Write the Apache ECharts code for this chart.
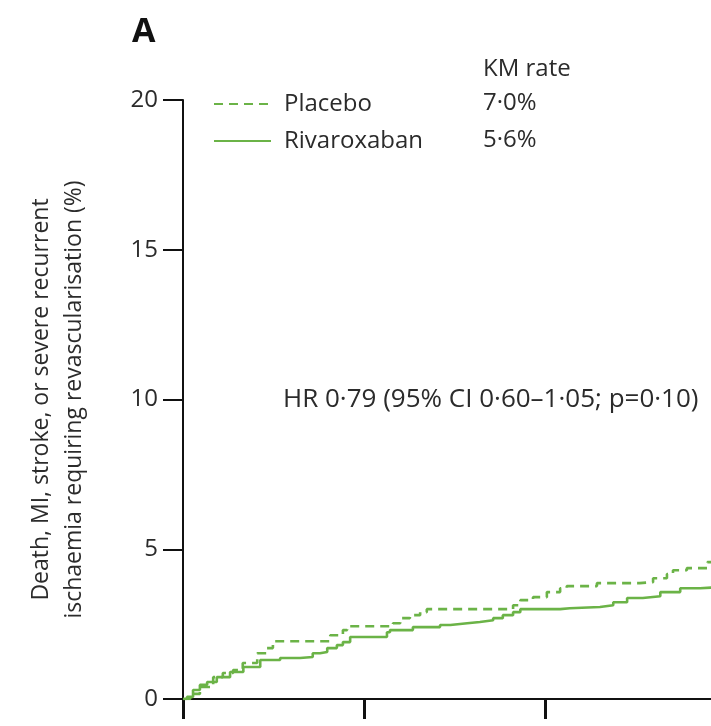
<!DOCTYPE html>
<html>
<head>
<meta charset="utf-8">
<script src="https://cdn.jsdelivr.net/npm/echarts@6/dist/echarts.min.js"></script>
<style>html,body{margin:0;padding:0;background:#fff}#c{width:711px;height:726px}</style>
</head>
<body>
<div id="c"></div>
<script>
// Time (days) and cumulative event rate (%)
const placeboDays = [0, 1.2, 2.8, 5.0, 6.6, 8.3, 9.9, 12.3, 13.9, 14.9, 24.4, 26.5, 27.2, 34.8, 36.0, 37.6, 39.3, 40.4, 54.7, 55.9, 58.0, 60.3, 62.5, 63.6, 68.6, 75.7, 77.9, 80.2, 81.2, 83.5, 86.9, 88.5];
const placeboRate = [0, 0.17, 0.40, 0.73, 0.87, 0.97, 1.20, 1.53, 1.70, 1.93, 2.13, 2.30, 2.43, 2.53, 2.70, 2.80, 2.90, 3.00, 3.13, 3.30, 3.40, 3.57, 3.70, 3.77, 3.87, 3.90, 4.03, 4.17, 4.30, 4.37, 4.57, 4.65];
const rivaDays = [0, 0.66, 1.66, 2.8, 4.0, 5.6, 7.8, 10.0, 12.8, 16.1, 19.4, 21.5, 22.7, 23.9, 25.5, 26.5, 27.7, 33.8, 34.3, 38.1, 42.6, 44.3, 47.1, 49.2, 51.4, 53.0, 54.7, 55.9, 62.5, 64.1, 69.1, 71.3, 73.6, 76.2, 79.1, 82.4, 85.7, 88.5];
const rivaRate = [0, 0.07, 0.30, 0.47, 0.57, 0.73, 0.90, 1.07, 1.30, 1.37, 1.40, 1.53, 1.57, 1.70, 1.80, 1.90, 2.07, 2.23, 2.30, 2.40, 2.47, 2.53, 2.57, 2.63, 2.70, 2.80, 2.90, 3.00, 3.03, 3.07, 3.13, 3.23, 3.37, 3.43, 3.57, 3.70, 3.73, 3.74];
const seriesNames = ['Placebo', 'Rivaroxaban'];
const kmRates = ['7·0%', '5·6%'];
const yTicks = [0, 5, 10, 15, 20];
const xTicks = [0, 30, 60];

const GREEN = '#6bb347';
const TEXT = '#2b2b2b';
const FONT = '"Open Sans", "Noto Sans", sans-serif';

const chart = echarts.init(document.getElementById('c'), null, {renderer: 'canvas'});
chart.setOption({
  animation: false,
  backgroundColor: '#fff',
  textStyle: {fontFamily: FONT, color: TEXT},
  grid: {left: 183, top: 100, right: 0, height: 599, containLabel: false},
  xAxis: {
    type: 'value', min: 0, max: 87.5, interval: 30,
    axisLine: {show: true, lineStyle: {color: '#111', width: 2}},
    axisTick: {show: true, inside: false, length: 20, customValues: xTicks, lineStyle: {color: '#111', width: 3}},
    axisLabel: {show: false},
    splitLine: {show: false}
  },
  yAxis: {
    type: 'value', min: yTicks[0], max: yTicks[yTicks.length - 1], interval: 5,
    name: 'Death, MI, stroke, or severe recurrent\nischaemia requiring revascularisation (%)',
    nameLocation: 'middle', nameGap: 92, nameRotate: 90,
    nameTextStyle: {fontFamily: FONT, fontSize: 23, color: TEXT, lineHeight: 33},
    axisLine: {show: true, lineStyle: {color: '#111', width: 2}},
    axisTick: {show: true, inside: false, length: 20, lineStyle: {color: '#111', width: 2}},
    axisLabel: {fontFamily: FONT, fontSize: 24, color: TEXT, margin: 25},
    splitLine: {show: false}
  },
  legend: {
    orient: 'vertical', left: 213, top: 92, itemWidth: 57, itemHeight: 14, itemGap: 13,
    padding: 0,
    data: seriesNames,
    itemStyle: {opacity: 0},
    textStyle: {fontFamily: FONT, fontSize: 24, lineHeight: 24, color: TEXT, padding: [0, 0, 0, 8]}
  },
  series: [
    {
      name: seriesNames[0], type: 'line', step: 'end', showSymbol: false, symbol: 'none',
      data: placeboDays.map((d, i) => [d, placeboRate[i]]),
      lineStyle: {color: GREEN, width: 2.6, type: [9, 6]}, itemStyle: {color: GREEN}
    },
    {
      name: seriesNames[1], type: 'line', step: 'end', showSymbol: false, symbol: 'none',
      data: rivaDays.map((d, i) => [d, rivaRate[i]]),
      lineStyle: {color: GREEN, width: 2.6, type: 'solid'}, itemStyle: {color: GREEN}
    }
  ],
  graphic: [
    {type: 'text', left: 132, top: 15, style: {text: 'A', font: 'bold 34px ' + FONT, fill: '#111'}},
    {type: 'text', left: 483, top: 57, style: {text: 'KM rate', font: '24px ' + FONT, fill: TEXT}},
    {type: 'text', left: 483, top: 91, style: {text: kmRates[0], font: '24px ' + FONT, fill: TEXT}},
    {type: 'text', left: 483, top: 128, style: {text: kmRates[1], font: '24px ' + FONT, fill: TEXT}},
    {type: 'text', left: 283, top: 387, style: {text: 'HR 0·79 (95% CI 0·60–1·05; p=0·10)', font: '26px ' + FONT, fill: TEXT}}
  ]
});
</script>
</body>
</html>
